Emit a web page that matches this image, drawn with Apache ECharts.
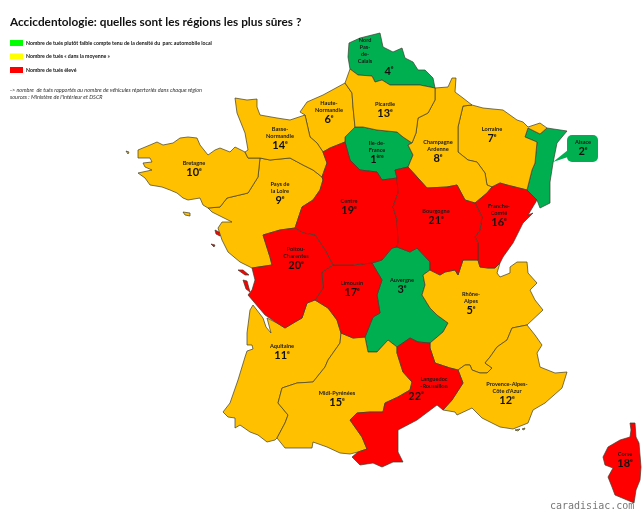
<!DOCTYPE html>
<html>
<head>
<meta charset="utf-8">
<style>
	html, body { margin:0; padding:0; background:#fff; }
	#main { width:643px; height:521px; }
</style>
<script src="https://cdn.jsdelivr.net/npm/echarts@6/dist/echarts.min.js"></script>
</head>
<body>
<div id="main"></div>
<script>
var regionNames = ['Ile-de-France','Alsace','Auvergne','Nord-Pas-de-Calais','Rhône-Alpes','Haute-Normandie','Lorraine','Champagne-Ardenne','Pays de la Loire','Bretagne','Aquitaine','Provence-Alpes-Côte d\'Azur','Picardie','Basse-Normandie','Midi-Pyrénées','Franche-Comté','Limousin','Corse','Centre','Poitou-Charentes','Bourgogne','Languedoc-Roussillon'];
var regionRanks = [1,2,3,4,5,6,7,8,9,10,11,12,13,14,15,16,17,18,19,20,21,22];
// 0 faible, 1 dans la moyenne, 2 eleve
var regionLevels = [0,0,0,0,1,1,1,1,1,1,1,1,1,1,1,2,2,2,2,2,2,2];
var levelNames = ['Nombre de tués plutôt faible compte tenu de la densité du  parc automobile local','Nombre de tués « dans la moyenne »','Nombre de tués élevé'];
var levelMapColors = ['#00B050','#FFC000','#FF0000'];
var levelLegendColors = ['#00FF00','#FFFF00','#FF0000'];

// outlines, in page pixels
var shapes = {
	'Nord-Pas-de-Calais':[[[349,43],[360,38],[380,33],[383,47],[393,52],[402,48],[405,58],[413,62],[418,70],[425,70],[433,78],[435,88],[420,85],[407,85],[390,85],[382,80],[375,82],[372,76],[358,75],[350,69],[348,57]]],
	'Picardie':[[[350,69],[358,75],[372,76],[375,82],[382,80],[390,85],[407,85],[420,85],[435,88],[435,100],[428,113],[418,118],[416,133],[412,143],[403,137],[397,132],[377,130],[363,127],[355,127],[353,107],[352,93],[345,83]]],
	'Haute-Normandie':[[[305,115],[300,112],[307,102],[323,95],[345,83],[352,93],[353,107],[355,127],[345,137],[345,142],[330,148],[323,152],[317,143],[310,137]]],
	'Basse-Normandie':[[[323,152],[327,163],[322,177],[313,170],[303,165],[290,158],[270,160],[260,158],[248,158],[245,152],[248,150],[245,133],[237,113],[235,98],[247,100],[257,99],[257,107],[260,115],[277,118],[290,120],[305,115],[310,137],[317,143]]],
	'Bretagne':[[[245,152],[248,158],[260,158],[258,177],[248,193],[227,198],[220,207],[208,208],[203,205],[200,198],[188,200],[183,198],[177,193],[170,190],[162,187],[150,185],[145,178],[138,173],[152,170],[145,167],[143,163],[152,162],[150,158],[138,158],[138,150],[150,145],[157,142],[163,145],[173,143],[180,138],[188,137],[197,138],[200,145],[208,155],[215,150],[220,148],[230,152],[235,147]],[[183,212],[190,213],[190,216],[185,215]],[[126,151],[129,152],[128,154]]],
	'Pays de la Loire':[[[260,158],[270,160],[290,158],[303,165],[313,170],[322,177],[323,180],[320,190],[313,200],[302,207],[295,228],[280,230],[263,235],[270,257],[272,265],[252,268],[240,262],[228,252],[222,240],[218,228],[222,222],[232,222],[212,212],[208,208],[220,207],[227,198],[248,193],[258,177]]],
	'Poitou-Charentes':[[[295,228],[303,233],[315,235],[325,250],[333,265],[322,272],[323,288],[315,300],[307,303],[302,318],[295,322],[285,328],[277,323],[265,315],[248,295],[252,290],[255,280],[252,268],[272,265],[270,257],[263,235],[280,230]],[[238,270],[243,270],[249,275],[245,275]],[[243,280],[247,281],[250,292],[246,289]],[[215,230],[219,232],[220,236],[216,234]],[[211,244],[215,245],[214,247]]],
	'Centre':[[[323,152],[330,148],[345,142],[350,160],[360,170],[377,172],[382,180],[397,178],[398,193],[393,207],[397,220],[398,242],[397,247],[392,248],[382,260],[372,263],[353,265],[333,265],[325,250],[315,235],[303,233],[295,228],[302,207],[313,200],[320,190],[323,180],[322,177],[327,163]]],
	'Ile-de-France':[[[355,127],[363,127],[377,130],[397,132],[403,137],[412,143],[408,145],[413,155],[408,167],[395,170],[397,178],[382,180],[377,172],[360,170],[350,160],[345,142],[345,137]]],
	'Champagne-Ardenne':[[[435,88],[448,87],[452,78],[456,78],[455,92],[463,98],[472,105],[463,106],[458,127],[458,152],[468,160],[477,162],[485,173],[487,185],[492,187],[487,193],[475,203],[465,200],[457,185],[447,187],[427,188],[418,178],[408,167],[413,155],[408,145],[412,143],[416,133],[418,118],[428,113],[435,100]]],
	'Lorraine':[[[463,106],[472,105],[483,108],[503,110],[517,120],[523,122],[528,127],[540,123],[547,128],[540,134],[528,128],[525,137],[537,142],[535,163],[532,170],[527,190],[507,185],[500,183],[492,187],[487,185],[485,173],[477,162],[468,160],[458,152],[458,127]]],
	'Alsace':[[[528,128],[540,134],[547,128],[567,131],[557,143],[553,163],[550,182],[550,203],[540,208],[537,200],[527,190],[532,170],[535,163],[537,142],[525,137]]],
	'Franche-Comté':[[[492,187],[500,183],[507,185],[527,190],[537,200],[528,215],[533,213],[523,223],[513,243],[503,257],[500,263],[495,268],[488,268],[480,267],[478,260],[478,243],[475,237],[480,230],[482,217],[475,203],[487,193]]],
	'Bourgogne':[[[397,178],[395,170],[408,167],[418,178],[427,188],[447,187],[457,185],[465,200],[475,203],[482,217],[480,230],[475,237],[478,243],[478,260],[470,260],[463,260],[458,275],[455,270],[445,272],[440,275],[430,270],[430,262],[417,248],[410,252],[397,247],[398,242],[397,220],[393,207],[398,193]]],
	'Auvergne':[[[372,263],[382,260],[392,248],[397,247],[410,252],[417,248],[430,262],[430,270],[423,275],[425,285],[422,295],[430,308],[437,315],[448,323],[443,332],[430,343],[418,342],[410,338],[397,347],[388,340],[377,352],[368,352],[365,337],[373,317],[380,313],[377,295],[382,280]]],
	'Limousin':[[[333,265],[353,265],[372,263],[382,280],[377,295],[380,313],[373,317],[365,337],[353,338],[341,333],[337,320],[328,308],[315,300],[323,288],[322,272]]],
	'Rhône-Alpes':[[[430,270],[440,275],[445,272],[455,270],[458,275],[463,260],[470,260],[478,260],[480,267],[488,268],[495,268],[500,263],[497,273],[500,277],[510,273],[510,267],[517,262],[527,262],[528,273],[537,283],[530,290],[535,300],[543,310],[527,325],[517,327],[512,328],[507,340],[497,347],[490,357],[485,363],[492,368],[487,373],[480,373],[472,370],[470,365],[465,365],[458,370],[450,368],[435,363],[430,348],[430,343],[443,332],[448,323],[437,315],[430,308],[422,295],[425,285],[423,275]]],
	'Languedoc-Roussillon':[[[430,343],[430,348],[435,363],[450,368],[458,370],[463,383],[452,400],[443,410],[437,405],[417,420],[398,430],[398,452],[403,462],[393,462],[382,467],[373,463],[360,465],[352,457],[358,452],[367,449],[362,437],[350,420],[357,413],[370,412],[383,412],[385,403],[398,397],[410,390],[412,382],[403,372],[397,353],[397,347],[410,338],[418,342]]],
	'Provence-Alpes-Côte d\'Azur':[[[458,370],[465,365],[470,365],[472,370],[480,373],[487,373],[492,368],[485,363],[490,357],[497,347],[507,340],[512,328],[517,327],[527,325],[535,335],[542,345],[537,353],[540,367],[555,373],[567,372],[562,388],[545,403],[533,410],[528,423],[513,429],[500,427],[482,418],[472,408],[457,415],[455,412],[443,410],[452,400],[463,383]],[[515,430],[520,429],[518,431]],[[522,429],[525,428],[524,430]]],
	'Midi-Pyrénées':[[[341,333],[353,338],[365,337],[368,352],[377,352],[388,340],[397,347],[397,353],[403,372],[412,382],[410,390],[398,397],[385,403],[383,412],[370,412],[357,413],[350,420],[362,437],[367,449],[358,452],[350,454],[340,453],[327,447],[313,442],[312,448],[298,448],[285,448],[277,438],[285,423],[288,415],[278,403],[282,388],[297,383],[313,382],[325,367],[328,360],[340,343]]],
	'Aquitaine':[[[315,300],[328,308],[337,320],[341,333],[340,343],[328,360],[325,367],[313,382],[297,383],[282,388],[278,403],[288,415],[285,423],[277,438],[275,440],[267,442],[258,435],[250,432],[240,425],[235,428],[235,418],[228,417],[223,412],[230,403],[238,380],[245,357],[247,351],[253,349],[252,345],[247,345],[247,333],[250,310],[253,305],[263,318],[266,327],[271,333],[267,318],[277,323],[285,328],[295,322],[302,318],[307,303]]],
	'Corse':[[[630,423],[635,423],[636,437],[639,443],[641,467],[640,480],[636,490],[634,503],[627,500],[615,495],[612,487],[608,477],[613,468],[605,465],[603,457],[608,447],[620,440],[630,437],[631,430]]]
};

// where each label block sits
var labelSpots = {
	'Nord-Pas-de-Calais':[365,57],'Picardie':[385,110],'Haute-Normandie':[329,112],'Basse-Normandie':[280,138],'Bretagne':[194,169],
	'Pays de la Loire':[280,193],'Poitou-Charentes':[296,258],'Centre':[349,207],'Ile-de-France':[377,152],'Champagne-Ardenne':[438,151],
	'Lorraine':[492,135],'Alsace':[583,148],'Franche-Comté':[499,215],'Bourgogne':[436,217],'Auvergne':[402,286],'Limousin':[352,289],
	'Rhône-Alpes':[471,303],'Languedoc-Roussillon':[434,389],'Provence-Alpes-Côte d\'Azur':[507,393],'Midi-Pyrénées':[337,399],'Aquitaine':[282,352],'Corse':[625,460]
};
var labelLines = {
	'Nord-Pas-de-Calais':['Nord','Pas-','de-','Calais'],'Haute-Normandie':['Haute-','Normandie'],'Basse-Normandie':['Basse-','Normandie'],
	'Pays de la Loire':['Pays de','la Loire'],'Poitou-Charentes':['Poitou-','Charentes'],'Ile-de-France':['Ile-de-','France'],
	'Champagne-Ardenne':['Champagne','Ardenne'],'Franche-Comté':['Franche-','Comté'],'Rhône-Alpes':['Rhône-','Alpes'],
	'Languedoc-Roussillon':['Languedoc','-Roussillon'],'Provence-Alpes-Côte d\'Azur':['Provence-Alpes-','Côte d\'Azur']
};

function toFeature(name){
	return {
		type:'Feature',
		properties:{name:name, cp:[labelSpots[name][0], -labelSpots[name][1]]},
		geometry:{
			type:'MultiPolygon',
			coordinates:shapes[name].map(function(ring){
				return [ring.concat([ring[0]]).map(function(p){ return [p[0], -p[1]]; })];
			})
		}
	};
}
echarts.registerMap('france', {type:'FeatureCollection', features:regionNames.map(toFeature)});

var font = 'Lato, "Open Sans", sans-serif';
var chart = echarts.init(document.getElementById('main'));

function regionLabel(params){
	var i = regionNames.indexOf(params.name);
	var lines = labelLines[params.name] || [params.name];
	var rank = regionRanks[i];
	var rankText = '{r|'+rank+'}{s|'+(rank === 1 ? 'ère' : 'e')+'}';
	if(params.name === 'Nord-Pas-de-Calais') rankText = '{gap48|}'+rankText;
	if(params.name === 'Languedoc-Roussillon') rankText = rankText+'{gap36|}';
	return lines.map(function(l){ return '{n|'+l+'}'; }).join('\n')+'\n'+rankText;
}

var series = [{
	type:'map',
	map:'france',
	left:0,
	top:0,
	width:643,
	height:521,
	aspectScale:1,
	boundingCoords:[[0,0],[643,-521]],
	roam:false,
	silent:true,
	selectedMode:false,
	showLegendSymbol:false,
	itemStyle:{borderColor:'#3d3d2e', borderWidth:0.7},
	label:{
		show:true,
		position:'inside',
		align:'center',
		verticalAlign:'middle',
		formatter:regionLabel,
		rich:{
			n:{fontFamily:font, fontSize:5.6, fontWeight:'bold', color:'#1a1a1a', lineHeight:7},
			r:{fontFamily:font, fontSize:11, fontWeight:'bold', color:'#111', lineHeight:11},
			s:{fontFamily:font, fontSize:5, fontWeight:'bold', color:'#111', lineHeight:11, verticalAlign:'top'},
			gap48:{width:48},
			gap36:{width:36}
		}
	},
	data:regionNames.map(function(name, i){
		return {name:name, value:regionRanks[i], itemStyle:{areaColor:levelMapColors[regionLevels[i]]}};
	})
}];
// empty series, only there to feed the legend
levelNames.forEach(function(name, i){
	series.push({type:'bar', name:name, data:[], itemStyle:{color:levelLegendColors[i]}});
});

chart.setOption({
	animation:false,
	backgroundColor:'#fff',
	title:[{
		text:'Accicdentologie: quelles sont les régions les plus sûres ?',
		left:10,
		top:16,
		padding:0,
		textStyle:{fontFamily:font, fontSize:11.8, fontWeight:'bold', color:'#111'}
	},{
		text:'-> nombre  de tués rapportés au nombre de véhicules répertoriés dans chaque région\nsources : Ministère de l\'Intérieur et DSCR',
		left:10,
		top:86,
		padding:0,
		textStyle:{fontFamily:font, fontSize:5.5, fontWeight:'normal', fontStyle:'italic', color:'#333', lineHeight:7.5}
	},{
		text:'caradisiac.com',
		left:550,
		top:501,
		padding:0,
		textStyle:{fontFamily:'"DejaVu Sans Mono", monospace', fontSize:10, fontWeight:'normal', color:'#777'}
	}],
	legend:{
		orient:'vertical',
		left:10,
		top:40,
		padding:0,
		itemWidth:13,
		itemHeight:6,
		itemGap:7.5,
		icon:'rect',
		selectedMode:false,
		textStyle:{fontFamily:font, fontSize:5.2, fontWeight:'bold', color:'#111', padding:[0,0,0,-2]},
		data:levelNames
	},
	xAxis:{show:false},
	yAxis:{show:false},
	grid:{left:0, top:0, width:10, height:10},
	graphic:[{
		type:'rect',
		shape:{x:567, y:135, width:31, height:27, r:5},
		style:{fill:'#00B050'}
	},{
		type:'polygon',
		shape:{points:[[553,162],[568,150],[568,157]]},
		style:{fill:'#00B050'}
	}],
	series:series
});
</script>
</body>
</html>
